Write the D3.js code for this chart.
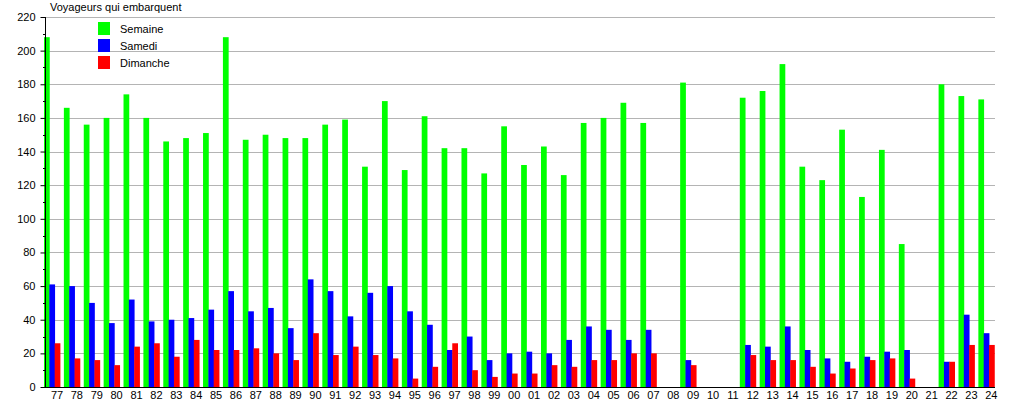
<!DOCTYPE html>
<html><head><meta charset="utf-8">
<script src="https://cdn.jsdelivr.net/npm/d3@7/dist/d3.min.js"></script>
<style>
body{margin:0;background:#fff;}
svg{display:block;font-family:"Liberation Sans",Arial,sans-serif;}
</style></head>
<body>
<svg id="c" width="1015" height="400"></svg>
<script>
const categories = ["77","78","79","80","81","82","83","84","85","86","87","88","89","90","91","92","93","94","95","96","97","98","99","00","01","02","03","04","05","06","07","08","09","10","11","12","13","14","15","16","17","18","19","20","21","22","23","24"];
const semaine = [208,166,156,160,174,160,146,148,151,208,147,150,148,148,156,159,131,170,129,161,142,142,127,155,132,143,126,157,160,169,157,null,181,null,null,172,176,192,131,123,153,113,141,85,null,180,173,171];
const samedi = [61,60,50,38,52,39,40,41,46,57,45,47,35,64,57,42,56,60,45,37,22,30,16,20,21,20,28,36,34,28,34,null,16,null,null,25,24,36,22,17,15,18,21,22,null,15,43,32];
const dimanche = [26,17,16,13,24,26,18,28,22,22,23,20,16,32,19,24,19,17,5,12,26,10,6,8,8,13,12,16,16,20,20,null,13,null,null,19,16,16,12,8,11,16,17,5,null,15,25,25];
const seriesNames = ["Semaine","Samedi","Dimanche"];
const seriesColors = ["#00ff00","#0000ff","#ff0000"];
const yTicks = [0,20,40,60,80,100,120,140,160,180,200,220];
const title = "Voyageurs qui embarquent";

(function(){
const svg = d3.select("#c");
const seriesData = [semaine, samedi, dimanche];
const pL = 45, pR = 995, pT = 17, pB = 387;

const x = d3.scaleBand().domain(categories).range([44, 44 + 19.88*categories.length]).paddingInner(0).paddingOuter(0);
const x1 = d3.scaleBand().domain(seriesNames).range([0, 16]);
const y = d3.scaleLinear().domain([0,220]).range([pB, pT]);

// grid
svg.append("g").selectAll("line").data(yTicks.filter(d=>d>0)).join("line")
  .attr("x1", pL).attr("x2", pR)
  .attr("y1", d=>Math.round(y(d))+0.5).attr("y2", d=>Math.round(y(d))+0.5)
  .attr("stroke", "#b4b4b4").attr("stroke-width", 1);

// bars
seriesNames.forEach((s, si) => {
  svg.append("g").selectAll("rect")
    .data(categories.map((c,i)=>({c, v: seriesData[si][i]})).filter(d=>d.v!=null))
    .join("rect")
    .attr("x", d => x(d.c) + x1(s))
    .attr("width", x1.bandwidth()+0.4)
    .attr("y", d => y(d.v))
    .attr("height", d => y(0) - y(d.v))
    .attr("fill", seriesColors[si]);
});

// y axis
const yAxis = d3.axisLeft(y).tickValues(yTicks).tickSize(5).tickPadding(5).tickFormat(d3.format("d"));
const gy = svg.append("g").attr("transform", `translate(${pL+0.5},0)`).call(yAxis);
gy.select(".domain").remove();
gy.selectAll("line").attr("stroke","#000");
gy.selectAll("text").attr("font-size", 11).attr("fill","#000").attr("font-family","Liberation Sans, Arial, sans-serif");
// minor ticks
const minor = d3.range(10, 220, 20);
svg.append("g").selectAll("line").data(minor).join("line")
  .attr("x1", pL-2).attr("x2", pL)
  .attr("y1", d=>Math.round(y(d))+0.5).attr("y2", d=>Math.round(y(d))+0.5)
  .attr("stroke","#000");
svg.append("line").attr("x1", pL+0.5).attr("x2", pL+0.5).attr("y1", pT).attr("y2", pB+0.5).attr("stroke","#000");

// x axis
svg.append("line").attr("x1", pL).attr("x2", pR).attr("y1", pB+0.5).attr("y2", pB+0.5).attr("stroke","#000");
svg.append("g").selectAll("text").data(categories).join("text")
  .attr("x", d => x(d) + 13).attr("y", 398.5)
  .attr("text-anchor","middle").attr("font-size", 11).attr("fill","#000")
  .text(d=>d);

// title
svg.append("text").attr("x", 50).attr("y", 11).attr("font-size", 11).attr("fill","#000").text(title);

// legend
const lg = svg.append("g").selectAll("g").data(seriesNames).join("g")
  .attr("transform", (d,i)=>`translate(98,${22 + i*17})`);
lg.append("rect").attr("width",12).attr("height",13).attr("fill",(d,i)=>seriesColors[i]);
lg.append("text").attr("x",22).attr("y",10.5).attr("font-size",11).attr("fill","#000").text(d=>d);
})();
</script>
</body></html>
